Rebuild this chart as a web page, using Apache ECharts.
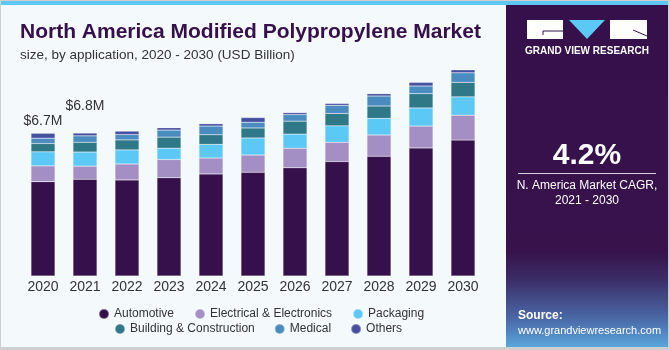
<!DOCTYPE html>
<html>
<head>
<meta charset="utf-8">
<script src="https://cdn.jsdelivr.net/npm/echarts@6/dist/echarts.min.js"></script>
<style>
  html, body { margin: 0; padding: 0; background: #fff; }
  #chart { width: 670px; height: 350px; }
</style>
</head>
<body>
<div id="chart"></div>
<script>
// data
var years = ['2020', '2021', '2022', '2023', '2024', '2025', '2026', '2027', '2028', '2029', '2030'];
var automotive  = [4.43, 4.54, 4.51, 4.61, 4.79, 4.87, 5.08, 5.37, 5.62, 6.01, 6.38];
var electrical  = [0.74, 0.62, 0.75, 0.86, 0.75, 0.81, 0.92, 0.91, 1.00, 1.03, 1.17];
var packaging   = [0.66, 0.66, 0.66, 0.53, 0.64, 0.80, 0.66, 0.77, 0.78, 0.85, 0.86];
var building    = [0.39, 0.46, 0.47, 0.52, 0.45, 0.47, 0.61, 0.58, 0.58, 0.67, 0.68];
var medical     = [0.25, 0.30, 0.25, 0.33, 0.41, 0.27, 0.31, 0.38, 0.47, 0.36, 0.45];
var others      = [0.23, 0.13, 0.16, 0.11, 0.11, 0.22, 0.09, 0.09, 0.11, 0.17, 0.14];
var topLabels   = ['$6.7M', '$6.8M'];

var names  = ['Automotive', 'Electrical & Electronics', 'Packaging', 'Building & Construction', 'Medical', 'Others'];
var colors = ['#36104a', '#a48fc4', '#5bc8f5', '#2e7888', '#4b8cc0', '#4650a0'];
var values = [automotive, electrical, packaging, building, medical, others];

var myChart = echarts.init(document.getElementById('chart'));

var series = values.map(function (arr, i) {
    var s = {
        name: names[i],
        type: 'bar',
        stack: 'total',
        barWidth: 24,
        data: arr.slice(),
        itemStyle: { color: colors[i], borderColor: 'rgba(255,255,255,0.35)', borderWidth: 0.5 }
    };
    if (i === names.length - 1) {
        // value labels over the first two bars
        s.data = arr.map(function (v, k) {
            if (k < topLabels.length) {
                return {
                    value: v,
                    label: {
                        show: true, position: 'top', formatter: topLabels[k],
                        offset: [0, k === 0 ? 0 : -15],
                        color: '#333', fontSize: 14, fontFamily: 'Liberation Sans'
                    }
                };
            }
            return v;
        });
    }
    return s;
});

var option = {
    backgroundColor: '#cfcfcf',
    title: {
        text: 'North America Modified Polypropylene Market',
        subtext: 'size, by application, 2020 - 2030 (USD Billion)',
        left: 15,
        top: 17,
        itemGap: 5,
        textStyle: { color: '#36104a', fontSize: 21, fontWeight: 'bold', fontFamily: 'Liberation Sans' },
        subtextStyle: { color: '#333', fontSize: 13.5, fontFamily: 'Liberation Sans' }
    },
    legend: [
        {
            data: names.slice(0, 3),
            left: 93, top: 303,
            icon: 'circle', itemWidth: 10, itemHeight: 10, itemGap: 20,
            textStyle: { color: '#333', fontSize: 12, fontFamily: 'Liberation Sans' }
        },
        {
            data: names.slice(3),
            left: 109, top: 318,
            icon: 'circle', itemWidth: 10, itemHeight: 10, itemGap: 19,
            textStyle: { color: '#333', fontSize: 12, fontFamily: 'Liberation Sans' }
        }
    ],
    grid: { left: 22, right: 186, top: 63, bottom: 74 },
    xAxis: {
        type: 'category',
        data: years,
        axisLine: { show: false },
        axisTick: { show: false },
        axisLabel: { color: '#333', fontSize: 14, margin: 4, fontFamily: 'Liberation Sans' }
    },
    yAxis: {
        type: 'value',
        min: 0,
        max: 10,
        show: false,
        splitLine: { show: false }
    },
    graphic: [
        { type: 'rect', z: -10, shape: { x: 1, y: 1, width: 667, height: 346 }, style: { fill: '#f4f9fc' } },
        { type: 'rect', z: -9, shape: { x: 1, y: 1, width: 667, height: 4 }, style: { fill: '#5ec8f2' } },
        {
            type: 'rect', z: -9, shape: { x: 506, y: 5, width: 162, height: 342 },
            style: {
                fill: new echarts.graphic.LinearGradient(0, 0, 0, 1, [
                    { offset: 0, color: '#36104a' },
                    { offset: 0.72, color: '#37124b' },
                    { offset: 0.8, color: '#3b2c66' },
                    { offset: 0.92, color: '#4a6aa8' },
                    { offset: 1, color: '#5aa6dc' }
                ])
            }
        },
        // logo
        { type: 'rect', shape: { x: 527, y: 20, width: 36, height: 19 }, style: { fill: '#fff' } },
        { type: 'polyline', shape: { points: [[563, 31], [543, 31], [543, 35]] }, style: { stroke: '#36104a', lineWidth: 1, fill: null } },
        { type: 'polygon', shape: { points: [[569, 20], [605, 20], [587, 39]] }, style: { fill: '#5bc8f5' } },
        { type: 'rect', shape: { x: 610, y: 20, width: 37, height: 19 }, style: { fill: '#fff' } },
        { type: 'line', shape: { x1: 633, y1: 30, x2: 647, y2: 36 }, style: { stroke: '#36104a', lineWidth: 1 } },
        { type: 'text', x: 587, y: 51, style: { text: 'GRAND VIEW RESEARCH', fill: '#fff', font: 'bold 10px "Liberation Sans"', align: 'center', verticalAlign: 'middle' } },
        // CAGR
        { type: 'text', x: 587, y: 156, style: { text: '4.2%', fill: '#fff', font: 'bold 30px "Liberation Sans"', align: 'center', verticalAlign: 'middle' } },
        { type: 'line', shape: { x1: 518, y1: 173.5, x2: 656, y2: 173.5 }, style: { stroke: '#d8d0e0', lineWidth: 1 } },
        { type: 'text', x: 587, y: 186, style: { text: 'N. America Market CAGR,', fill: '#fff', font: '12px "Liberation Sans"', align: 'center', verticalAlign: 'middle' } },
        { type: 'text', x: 587, y: 201, style: { text: '2021 - 2030', fill: '#fff', font: '12px "Liberation Sans"', align: 'center', verticalAlign: 'middle' } },
        // source
        { type: 'text', x: 518, y: 316, style: { text: 'Source:', fill: '#fff', font: 'bold 12px "Liberation Sans"', verticalAlign: 'middle' } },
        { type: 'text', x: 518, y: 331, style: { text: 'www.grandviewresearch.com', fill: '#fff', font: '11px "Liberation Sans"', verticalAlign: 'middle' } }
    ],
    series: series
};

myChart.setOption(option);
</script>
</body>
</html>
